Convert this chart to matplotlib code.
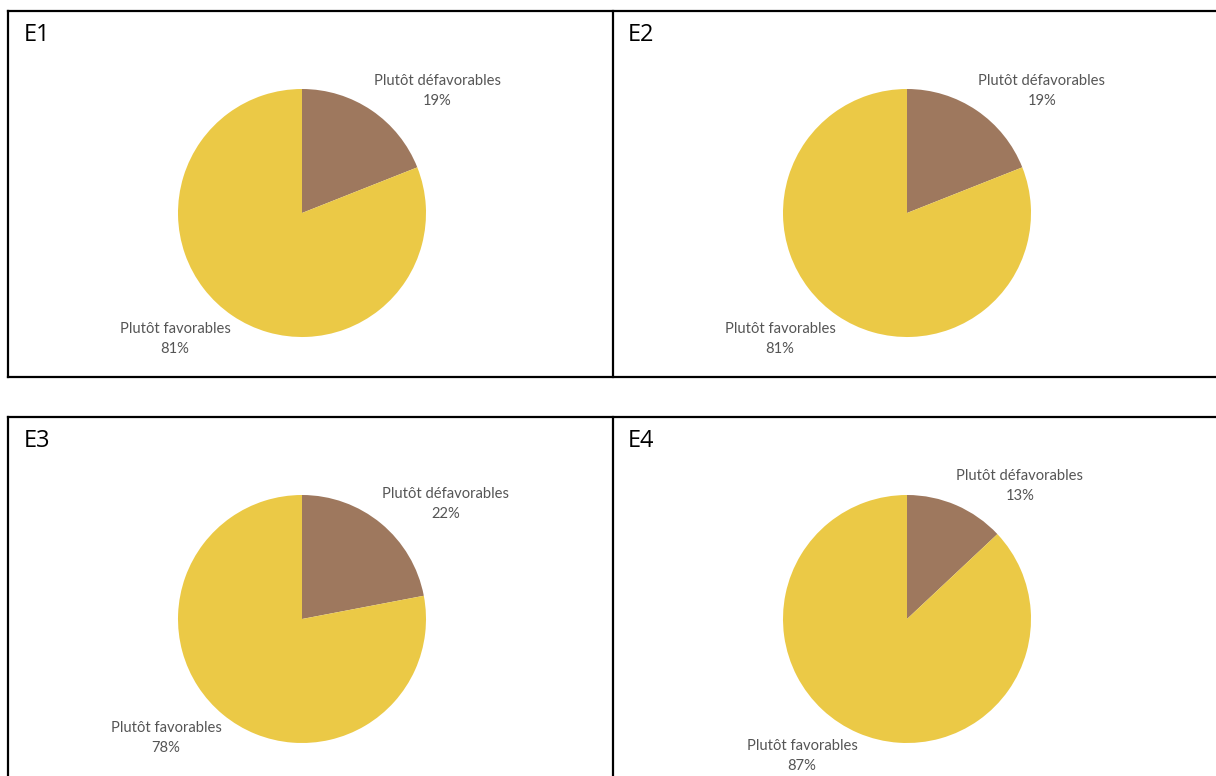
import matplotlib
matplotlib.use("Agg")
import matplotlib.pyplot as plt
from matplotlib.lines import Line2D

W, H = 1216, 776
panels = ["E1", "E2", "E3", "E4"]
categories = ["Plutôt défavorables", "Plutôt favorables"]
defavorables = [19, 19, 22, 13]
favorables = [81, 81, 78, 87]
colors = ["#9E785E", "#EBC946"]

fig = plt.figure(figsize=(W / 100, H / 100), dpi=100)

def fx(x):
    return x / W

def fy(y):
    return 1 - y / H

# frames
lw = 1.6
frame_lines = [
    ((8, 1220), (11, 11)), ((8, 1220), (377, 377)),
    ((8, 8), (11, 377)), ((613, 613), (11, 377)),
    ((8, 1220), (417, 417)), ((8, 8), (417, 780)), ((613, 613), (417, 780)),
]
for xs, ys in frame_lines:
    fig.add_artist(Line2D([fx(xs[0]), fx(xs[1])], [fy(ys[0]), fy(ys[1])],
                          transform=fig.transFigure, color="black", lw=lw))

centers = [(302, 213), (907, 213), (302, 619), (907, 619)]
R = 124
title_pos = [(24, 35), (628, 35), (24, 441), (628, 441)]
defav_pos = [(437, 91), (1042, 91), (446, 504), (1020, 486)]
fav_pos = [(175, 339), (780, 339), (166, 738), (802, 756)]

label_font = ["Lato", "DejaVu Sans"]
for i, p in enumerate(panels):
    cx, cy = centers[i]
    ax = fig.add_axes([fx(cx - R), fy(cy + R), 2 * R / W, 2 * R / H])
    ax.pie([defavorables[i], favorables[i]], colors=colors, startangle=90,
           counterclock=False, radius=1.0,
           wedgeprops=dict(linewidth=0))
    ax.set_xlim(-1, 1)
    ax.set_ylim(-1, 1)
    ax.set_aspect("auto")
    ax.axis("off")
    tx, ty = title_pos[i]
    fig.text(fx(tx), fy(ty), p, fontsize=17, family=["Open Sans", "DejaVu Sans"],
             color="black", ha="left", va="center")
    dx, dy = defav_pos[i]
    fig.text(fx(dx), fy(dy), f"{categories[0]}\n{defavorables[i]}%", fontsize=10.6,
             family=label_font, color="#555555", ha="center", va="center",
             linespacing=1.5)
    ax2x, ax2y = fav_pos[i]
    fig.text(fx(ax2x), fy(ax2y), f"{categories[1]}\n{favorables[i]}%", fontsize=10.6,
             family=label_font, color="#555555", ha="center", va="center",
             linespacing=1.5)

fig.savefig("out.png", dpi=100, facecolor="white")
